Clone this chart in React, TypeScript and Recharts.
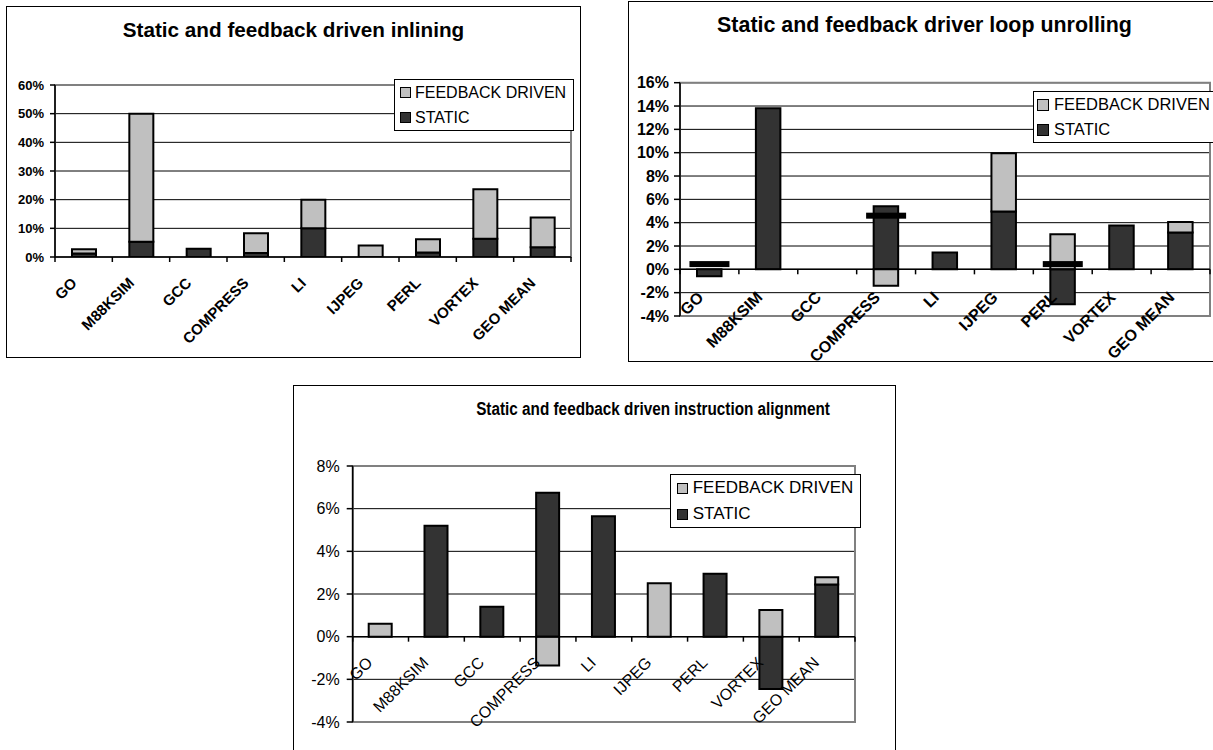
import React from "react";
import {
  ComposedChart,
  Bar,
  Line,
  XAxis,
  YAxis,
  CartesianGrid,
  Legend,
  ReferenceLine,
  ReferenceArea,
} from "recharts";

// benchmarks on the x axis (same for all three charts)
const categories = ["GO", "M88KSIM", "GCC", "COMPRESS", "LI", "IJPEG", "PERL", "VORTEX", "GEO MEAN"];

// inlining, percent
const inlStatic = [1.2, 5.3, 2.9, 1.4, 10.0, 0, 1.6, 6.4, 3.4];
const inlFeedback = [1.5, 44.7, 0, 6.9, 10.0, 4.0, 4.6, 17.2, 10.4];
const inlTicks = [0, 10, 20, 30, 40, 50, 60];

// loop unrolling, percent
const unrStatic = [-0.6, 13.8, 0, 5.4, 1.45, 4.95, -3.0, 3.75, 3.15];
const unrFeedback = [0, 0, 0, -1.4, 0, 5.0, 3.0, 0, 0.9];
const unrMarks = [0.45, null, null, 4.6, null, null, 0.45, null, null]; // thick black dashes
const unrTicks = [-4, -2, 0, 2, 4, 6, 8, 10, 12, 14, 16];

// instruction alignment, percent
const alnStatic = [0, 5.2, 1.4, 6.75, 5.65, 0, 2.95, -2.45, 2.45];
const alnFeedback = [0.6, 0, 0, -1.35, 0, 2.5, 0, 1.25, 0.33];
const alnTicks = [-4, -2, 0, 2, 4, 6, 8];

const STATIC_NAME = "STATIC";
const FEEDBACK_NAME = "FEEDBACK DRIVEN";

const FONT = '"Liberation Sans", Arial, Helvetica, sans-serif';
const LIGHT = "#c0c0c0";
const DARK = "#333333";
const X_AXIS_H = 30;

type PanelCfg = {
  title: string;
  left: number;
  top: number;
  width: number;
  height: number;
  margin: { top: number; right: number; bottom: number; left: number };
  yWidth: number;
  yTickSize: number;
  yTickMargin: number;
  ticks: number[];
  st: number[];
  fb: number[];
  marks: (number | null)[] | null;
  titleSize: number;
  titleScale: number;
  titleTop: number;
  titleCenter: number;
  weight: "bold" | "normal";
  yFont: number;
  xFont: number;
  labelDx: number;
  labelDy: number;
  legend: { left: number; top: number; width: number; height: number; font: number; square: number; padLeft: number; gap: number; row: number };
  barSize: number;
  zeroAxis: boolean;
};

const panels: PanelCfg[] = [
  {
    title: "Static and feedback driven inlining",
    left: 6, top: 6, width: 575, height: 352,
    margin: { top: 79, right: 10, bottom: 71, left: 4 },
    yWidth: 45, yTickSize: 5, yTickMargin: 6,
    ticks: inlTicks, st: inlStatic, fb: inlFeedback, marks: null,
    titleSize: 20.7, titleScale: 1, titleTop: 13.5, titleCenter: 287.5,
    weight: "bold", yFont: 13, xFont: 15, labelDx: -6, labelDy: 27,
    legend: { left: 388, top: 73, width: 180, height: 52, font: 16, square: 11, padLeft: 5, gap: 4, row: 25 },
    barSize: 24, zeroAxis: false,
  },
  {
    title: "Static and feedback driver loop unrolling",
    left: 628, top: 1, width: 593, height: 361,
    margin: { top: 81.7, right: 11, bottom: 16, left: 4 },
    yWidth: 48, yTickSize: 6, yTickMargin: 5,
    ticks: unrTicks, st: unrStatic, fb: unrFeedback, marks: unrMarks,
    titleSize: 21.4, titleScale: 1, titleTop: 14.4, titleCenter: 296.5,
    weight: "bold", yFont: 16, xFont: 16, labelDx: -5, labelDy: 29,
    legend: { left: 405, top: 90, width: 190, height: 52, font: 16.5, square: 12, padLeft: 3, gap: 5, row: 25.5 },
    barSize: 24.5, zeroAxis: true,
  },
  {
    title: "Static and feedback driven instruction alignment",
    left: 293, top: 385, width: 603, height: 380,
    margin: { top: 81, right: 41, bottom: 13, left: 4.7 },
    yWidth: 55, yTickSize: 6, yTickMargin: 7,
    ticks: alnTicks, st: alnStatic, fb: alnFeedback, marks: null,
    titleSize: 18, titleScale: 0.85, titleTop: 15, titleCenter: 359.8,
    weight: "normal", yFont: 16, xFont: 16, labelDx: -7, labelDy: 27,
    legend: { left: 377.3, top: 89.3, width: 190.4, height: 54, font: 17, square: 11, padLeft: 5.4, gap: 5, row: 27 },
    barSize: 23, zeroAxis: true,
  },
];

function markDot(p: any) {
  const { cx, cy, index } = p;
  if (cx == null || cy == null) return <g key={`m${index}`} />;
  return <rect key={`m${index}`} x={cx - 20} y={cy - 3} width={40} height={6} fill="#000" />;
}

function Panel({ c }: { c: PanelCfg }) {
  const data = categories.map((name, i) => ({
    name,
    st: c.st[i],
    fb: c.fb[i],
    mark: c.marks ? c.marks[i] : null,
  }));
  const min = c.ticks[0];
  const max = c.ticks[c.ticks.length - 1];
  const plotW = c.width - c.margin.left - c.yWidth - c.margin.right;
  const plotH = c.height - c.margin.top - c.margin.bottom - X_AXIS_H;
  const band = plotW / categories.length;
  const shiftUp = (plotH * (0 - min)) / (max - min);

  const catTick = (p: any) => {
    const { x, y, index, payload } = p;
    const y0 = y - shiftUp;
    const ax = x + c.labelDx;
    const ay = y0 + c.labelDy;
    return (
      <g>
        <line x1={x - band / 2} x2={x - band / 2} y1={y0} y2={y0 + 5} stroke="#000" strokeWidth={1.5} />
        {index === categories.length - 1 && (
          <line x1={x + band / 2} x2={x + band / 2} y1={y0} y2={y0 + 5} stroke="#000" strokeWidth={1.5} />
        )}
        <text
          x={ax}
          y={ay}
          transform={`rotate(-45 ${ax} ${ay})`}
          textAnchor="end"
          fontSize={c.xFont}
          fontWeight={c.weight}
          fontFamily={FONT}
          fill="#000"
        >
          {payload.value}
        </text>
      </g>
    );
  };

  const legendContent = () => {
    const L = c.legend;
    const items = [
      { name: FEEDBACK_NAME, color: LIGHT },
      { name: STATIC_NAME, color: DARK },
    ];
    return (
      <div
        style={{
          boxSizing: "border-box",
          width: L.width,
          height: L.height,
          border: "1px solid #000",
          background: "#fff",
          display: "flex",
          flexDirection: "column",
          justifyContent: "center",
          paddingLeft: L.padLeft,
          fontFamily: FONT,
          fontSize: L.font,
          color: "#000",
          whiteSpace: "nowrap",
        }}
      >
        {items.map((it) => (
          <div key={it.name} style={{ display: "flex", alignItems: "center", height: L.row }}>
            <span
              style={{
                display: "inline-block",
                boxSizing: "border-box",
                width: L.square,
                height: L.square,
                border: "1.5px solid #000",
                background: it.color,
                marginRight: L.gap,
              }}
            />
            <span>{it.name}</span>
          </div>
        ))}
      </div>
    );
  };

  return (
    <div style={{ position: "absolute", left: c.left, top: c.top, width: c.width, height: c.height }}>
      <ComposedChart
        width={c.width}
        height={c.height}
        data={data}
        margin={c.margin}
        stackOffset="sign"
        style={{ fontFamily: FONT }}
      >
        <CartesianGrid vertical={false} stroke="#000" strokeWidth={1} />
        <ReferenceArea y1={min} y2={max} fill="none" stroke="#808080" strokeWidth={2} />
        <XAxis
          dataKey="name"
          interval={0}
          height={X_AXIS_H}
          tickLine={false}
          tickSize={0}
          tickMargin={0}
          axisLine={c.zeroAxis ? false : { stroke: "#000", strokeWidth: 1.5 }}
          tick={catTick}
        />
        <YAxis
          type="number"
          width={c.yWidth}
          domain={[min, max]}
          ticks={c.ticks}
          interval={0}
          allowDataOverflow
          tickFormatter={(v: number) => `${v}%`}
          tickSize={c.yTickSize}
          tickMargin={c.yTickMargin}
          axisLine={{ stroke: "#000", strokeWidth: 1.5 }}
          tickLine={{ stroke: "#000", strokeWidth: 1.5 }}
          tick={{ fill: "#000", fontSize: c.yFont, fontWeight: c.weight, fontFamily: FONT }}
        />
        {c.zeroAxis && <ReferenceLine y={0} stroke="#000" strokeWidth={1.5} />}
        <Legend
          layout="vertical"
          align="center"
          verticalAlign="middle"
          content={legendContent}
          wrapperStyle={{ left: c.legend.left, top: c.legend.top, width: c.legend.width, height: c.legend.height }}
        />
        <Bar
          dataKey="st"
          name={STATIC_NAME}
          stackId="a"
          fill={DARK}
          stroke="#000"
          strokeWidth={2}
          barSize={c.barSize}
          isAnimationActive={false}
        />
        <Bar
          dataKey="fb"
          name={FEEDBACK_NAME}
          stackId="a"
          fill={LIGHT}
          stroke="#000"
          strokeWidth={2}
          barSize={c.barSize}
          isAnimationActive={false}
        />
        {c.marks && (
          <Line
            dataKey="mark"
            stroke="none"
            dot={markDot}
            activeDot={false}
            legendType="none"
            isAnimationActive={false}
          />
        )}
      </ComposedChart>
      <div
        style={{
          position: "absolute",
          left: c.titleCenter - 300,
          width: 600,
          top: c.titleTop,
          textAlign: "center",
          fontFamily: FONT,
          fontWeight: "bold",
          fontSize: c.titleSize,
          lineHeight: `${c.titleSize}px`,
          color: "#000",
          whiteSpace: "nowrap",
          transform: `scaleX(${c.titleScale})`,
        }}
      >
        {c.title}
      </div>
      <div
        style={{
          position: "absolute",
          left: 0,
          top: 0,
          width: c.width,
          height: c.height,
          boxSizing: "border-box",
          border: "1px solid #000",
          pointerEvents: "none",
        }}
      />
    </div>
  );
}

export default function App() {
  return (
    <div
      style={{
        position: "absolute",
        left: 0,
        top: 0,
        width: 1213,
        height: 750,
        overflow: "hidden",
        background: "#fff",
      }}
    >
      {panels.map((c) => (
        <Panel key={c.title} c={c} />
      ))}
    </div>
  );
}
